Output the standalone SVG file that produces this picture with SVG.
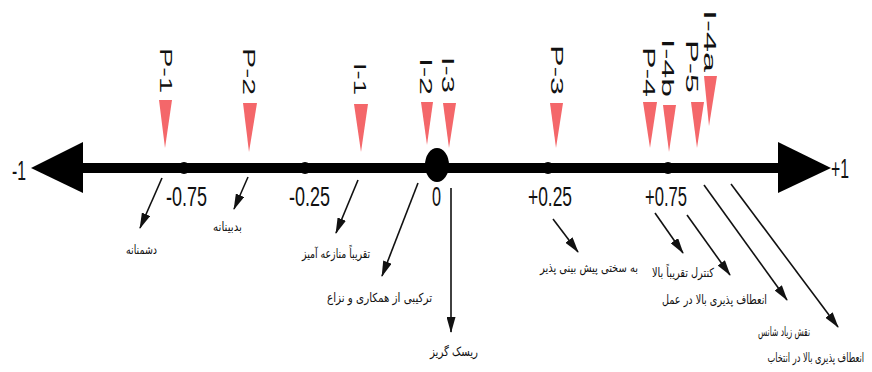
<svg xmlns="http://www.w3.org/2000/svg" width="872" height="372" viewBox="0 0 872 372">
<style>
.num{font-family:"Liberation Sans",Arial,sans-serif;font-size:28px;fill:#111}
.lbl{font-family:"Liberation Sans",Arial,sans-serif;font-size:16.5px;fill:#111}
.fa{font-family:"DejaVu Sans","Noto Sans",sans-serif;font-size:12.5px;fill:#111;text-anchor:end}
.tri{fill:#f4676a}
.arr{stroke:#111;stroke-width:1.6;fill:none;marker-end:url(#ah)}
</style>
<defs>
<marker id="ah" markerUnits="userSpaceOnUse" markerWidth="16" markerHeight="9" refX="15" refY="4.5" orient="auto">
<path d="M0,0 L16,4.5 L0,9 z" fill="#111"/>
</marker>
</defs>
<rect width="872" height="372" fill="#fff"/>
<g id="axis">
<rect x="80" y="163" width="700" height="10" fill="#000"/>
<polygon points="31,168 83,142 83,193" fill="#000"/>
<polygon points="778,142 831,168 778,193" fill="#000"/>
<circle cx="184" cy="168" r="6" fill="#000"/>
<circle cx="305" cy="168" r="6" fill="#000"/>
<ellipse cx="437" cy="165" rx="12" ry="17" fill="#000"/>
<circle cx="548" cy="168" r="6" fill="#000"/>
<circle cx="668" cy="168" r="6" fill="#000"/>
<text class="num" x="12" y="180" textLength="14" lengthAdjust="spacingAndGlyphs">-1</text>
<text class="num" x="831" y="178" textLength="18" lengthAdjust="spacingAndGlyphs">+1</text>
<text class="num" x="166" y="206" textLength="41" lengthAdjust="spacingAndGlyphs">-0.75</text>
<text class="num" x="289" y="206" textLength="41" lengthAdjust="spacingAndGlyphs">-0.25</text>
<text class="num" x="432" y="206" textLength="9" lengthAdjust="spacingAndGlyphs">0</text>
<text class="num" x="528" y="206" textLength="44" lengthAdjust="spacingAndGlyphs">+0.25</text>
<text class="num" x="645" y="206" textLength="42" lengthAdjust="spacingAndGlyphs">+0.75</text>
</g>
<g id="P-1"><polygon class="tri" points="159,100 172,100 165,148"/><text class="lbl" transform="translate(160,48) rotate(90)" textLength="45" lengthAdjust="spacingAndGlyphs">P-1</text></g>
<g id="P-2"><polygon class="tri" points="243,103 257,103 249,152"/><text class="lbl" transform="translate(243,48) rotate(90)" textLength="47" lengthAdjust="spacingAndGlyphs">P-2</text></g>
<g id="I-1"><polygon class="tri" points="354,104 368,104 361,152"/><text class="lbl" transform="translate(354,63) rotate(90)" textLength="32" lengthAdjust="spacingAndGlyphs">I-1</text></g>
<g id="I-2"><polygon class="tri" points="421,102 433,102 427,145"/><text class="lbl" transform="translate(420,58) rotate(90)" textLength="37" lengthAdjust="spacingAndGlyphs">I-2</text></g>
<g id="I-3"><polygon class="tri" points="443,103 456,103 449,148"/><text class="lbl" transform="translate(442,57) rotate(90)" textLength="36" lengthAdjust="spacingAndGlyphs">I-3</text></g>
<g id="P-3"><polygon class="tri" points="550,103 563,103 556,148"/><text class="lbl" transform="translate(551,45) rotate(90)" textLength="50" lengthAdjust="spacingAndGlyphs">P-3</text></g>
<g id="P-4"><polygon class="tri" points="643,102 657,102 650,148"/><text class="lbl" transform="translate(643,47) rotate(90)" textLength="50" lengthAdjust="spacingAndGlyphs">P-4</text></g>
<g id="I-4b"><polygon class="tri" points="663,105 676,105 669,152"/><text class="lbl" transform="translate(662,39) rotate(90)" textLength="58" lengthAdjust="spacingAndGlyphs">I-4b</text></g>
<g id="P-5"><polygon class="tri" points="691,102 704,102 697,148"/><text class="lbl" transform="translate(686,40) rotate(90)" textLength="53" lengthAdjust="spacingAndGlyphs">P-5</text></g>
<g id="I-4a"><polygon class="tri" points="704,76 717,76 709,126"/><text class="lbl" transform="translate(704,10) rotate(90)" textLength="62" lengthAdjust="spacingAndGlyphs">I-4a</text></g>
<g id="connectors">
<line class="arr" x1="162" y1="178" x2="140" y2="228"/>
<line class="arr" x1="248" y1="177" x2="234" y2="209"/>
<line class="arr" x1="358" y1="180" x2="336" y2="233"/>
<line class="arr" x1="418" y1="183" x2="382" y2="276"/>
<line class="arr" x1="451" y1="188" x2="451" y2="332"/>
<line class="arr" x1="553" y1="219" x2="578" y2="252"/>
<line class="arr" x1="655" y1="213" x2="683" y2="253"/>
<line class="arr" x1="687" y1="215" x2="730" y2="275"/>
<line class="arr" x1="704" y1="185" x2="787" y2="300"/>
<line class="arr" x1="731" y1="184" x2="838" y2="327"/>
</g>
<g id="t1"><text class="fa" x="157" y="254" textLength="31" lengthAdjust="spacingAndGlyphs">دشمنانه</text></g>
<g id="t2"><text class="fa" x="242" y="231" textLength="29" lengthAdjust="spacingAndGlyphs">بدبینانه</text></g>
<g id="t3"><text class="fa" x="370" y="258" textLength="68" lengthAdjust="spacingAndGlyphs">تقریباً منازعه آمیز</text></g>
<g id="t4"><text class="fa" x="432" y="302" textLength="105" lengthAdjust="spacingAndGlyphs">ترکیبی از همکاری و نزاع</text></g>
<g id="t5"><text class="fa" x="478" y="356" textLength="48" lengthAdjust="spacingAndGlyphs">ریسک گریز</text></g>
<g id="t6"><text class="fa" x="638" y="272" textLength="98" lengthAdjust="spacingAndGlyphs">به سختی پیش بینی پذیر</text></g>
<g id="t7"><text class="fa" x="714" y="277" textLength="62" lengthAdjust="spacingAndGlyphs">کنترل تقریباً بالا</text></g>
<g id="t8"><text class="fa" x="767" y="304" textLength="105" lengthAdjust="spacingAndGlyphs">انعطاف پذیری بالا در عمل</text></g>
<g id="t9"><text class="fa" x="810" y="336" textLength="52" lengthAdjust="spacingAndGlyphs">نقش زیاد شانس</text></g>
<g id="t10" transform="translate(864,362) scale(0.66,1)"><text class="fa" x="0" y="0">انعطاف پذیری بالا در انتخاب</text></g>
</svg>
